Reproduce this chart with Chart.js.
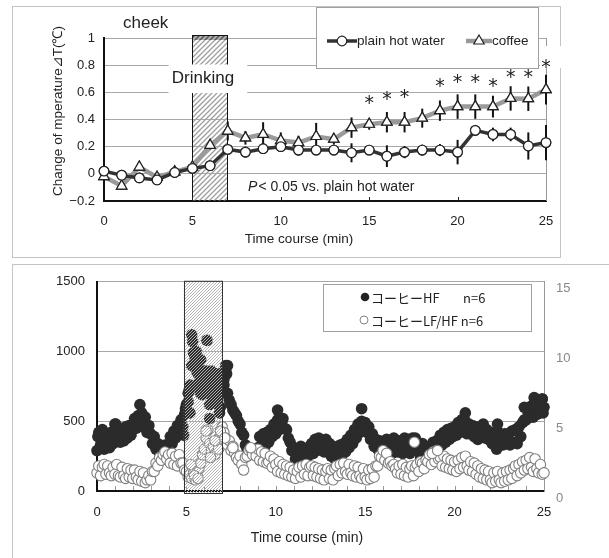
<!DOCTYPE html>
<html>
<head>
<meta charset="utf-8">
<script src="https://cdn.jsdelivr.net/npm/chart.js@4.4.1/dist/chart.umd.min.js"></script>
<style>
  body { margin: 0; background: #fff; }
  #wrap { position: relative; width: 609px; height: 558px; overflow: hidden; }
  canvas { position: absolute; left: 0; }
  #top { top: 0; }
  #bottom { top: 262px; }
  .frame1 { position: absolute; left: 12px; top: 6px; width: 547px; height: 250px; border: 1px solid #c4c4c4; }
  .frame2 { position: absolute; left: 12px; top: 264px; width: 597px; height: 294px; border-top: 1px solid #c4c4c4; border-left: 1px solid #c4c4c4; }
</style>
</head>
<body>
<div id="wrap">
  <div class="frame1"></div>
  <div class="frame2"></div>
  <canvas id="top" width="609" height="262"></canvas>
  <canvas id="bottom" width="609" height="296"></canvas>
</div>
<script>
// ---- top chart data (cheek temperature) ----
const minutes = [0,1,2,3,4,5,6,7,8,9,10,11,12,13,14,15,16,17,18,19,20,21,22,23,24,25];
const waterTemp = [0.02,-0.01,-0.03,-0.045,0.01,0.04,0.06,0.18,0.16,0.185,0.2,0.175,0.175,0.175,0.155,0.175,0.13,0.16,0.175,0.175,0.16,0.32,0.29,0.29,0.205,0.23];
const waterErr  = [0.02,0.02,0.02,0.02,0.02,0.03,0.02,0.03,0.04,0.03,0.03,0.04,0.03,0.03,0.07,0.03,0.08,0.045,0.04,0.045,0.09,0.04,0.05,0.05,0.1,0.13];
const coffeeTemp = [-0.02,-0.09,0.05,-0.025,0.015,0.05,0.21,0.315,0.265,0.29,0.245,0.23,0.275,0.255,0.34,0.365,0.38,0.38,0.41,0.465,0.495,0.495,0.495,0.555,0.553,0.62];
const coffeeErr  = [0.02,0.02,0.02,0.02,0.03,0.02,0.03,0.07,0.05,0.09,0.06,0.05,0.1,0.04,0.075,0.04,0.075,0.075,0.07,0.075,0.09,0.09,0.08,0.09,0.09,0.11];
const starMinutes = [15,16,17,19,20,21,22,23,24,25];
const starLevels  = [0.555,0.59,0.6,0.68,0.71,0.71,0.68,0.75,0.75,0.82];
const drinkStart = 5, drinkEnd = 7;

// ---- bottom chart data (HF and LF/HF, sampled every 0.1 min) ----
const sampleStep = 0.1;
const hfValues = [
  290,420,330,440,300,410,380,310,420,340,
  480,370,450,350,430,360,460,380,470,400,
  440,520,450,540,470,560,460,530,420,470,
  410,340,390,300,340,270,310,250,330,280,
  320,390,340,430,380,470,420,510,460,550,
  620,700,760,900,990,950,850,780,700,820,
  740,860,800,620,760,700,820,760,680,600,
  780,800,860,900,650,620,580,560,540,500,
  480,420,400,330,300,null,null,null,null,null,
  310,390,330,410,320,420,350,440,390,480,
  410,510,440,500,520,450,440,380,350,290,
  310,230,300,220,320,250,290,230,310,260,
  340,270,370,290,380,310,360,280,370,300,
  340,250,320,230,300,240,330,260,340,280,
  370,310,400,340,440,380,480,420,500,440,
  490,420,460,370,410,320,370,300,360,290,
  350,270,370,290,360,270,380,300,280,360,
  350,270,380,300,370,270,350,290,380,300,
  320,240,340,250,320,230,300,250,350,290,
  360,300,400,330,420,350,440,370,450,390,
  460,400,490,420,510,440,500,410,480,430,
  470,390,460,370,450,390,480,380,440,370,
  420,340,410,330,430,350,400,330,410,340,
  410,330,430,350,440,340,460,390,490,510,
  510,570,530,610,530,640,550,650,580,660,
  600
];
const lfhfValues = [
  1.3,1.8,1.1,1.7,1.9,1.2,1.8,1.3,1.1,1.7,
  1.2,1.9,1.1,1.0,1.7,1.1,0.9,1.6,1.0,1.5,
  0.9,1.5,1.0,0.8,1.4,0.7,1.3,0.6,0.8,1.1,
  0.8,1.4,1.4,2.0,1.8,2.4,2.2,2.6,2.8,2.3,
  2.6,2.0,2.7,1.9,2.5,1.8,2.6,2.0,2.0,1.5,
  1.4,1.0,1.2,0.9,1.3,0.8,1.1,1.6,2.0,2.6,
  3.0,3.8,4.4,3.4,2.9,3.2,2.6,3.5,3.0,4.0,
  4.6,4.2,3.8,3.3,3.6,2.9,3.2,2.7,2.4,2.2,
  2.5,1.9,1.5,2.4,2.5,2.9,3.0,2.6,3.0,2.5,
  3.0,2.2,2.8,2.1,2.7,2.0,2.1,2.5,1.7,2.3,
  1.9,1.4,2.1,1.3,1.9,1.2,1.8,1.1,1.7,1.0,
  1.5,0.9,1.4,1.7,1.0,1.8,1.2,1.9,1.1,1.7,
  1.8,1.1,1.7,1.0,1.6,0.9,1.5,0.8,1.4,1.6,
  0.9,1.5,0.8,1.6,1.8,1.1,1.9,1.3,2.0,1.4,
  1.2,1.9,1.3,1.1,1.8,1.0,1.7,1.1,0.9,1.6,
  1.0,0.8,1.5,0.9,1.6,1.0,1.8,1.8,2.5,2.4,
  2.9,2.2,2.7,2.0,2.1,1.8,1.9,1.6,1.3,1.8,
  1.2,1.9,1.1,1.7,1.0,1.6,1.8,1.1,1.7,1.9,
  1.4,2.1,2.0,1.6,2.2,2.1,2.6,1.9,2.8,2.1,
  2.9,2.3,2.4,1.8,2.5,1.7,2.3,1.6,2.2,1.5,
  2.1,1.4,2.2,1.6,2.4,1.7,2.5,1.8,1.5,2.1,
  1.4,2.0,1.2,1.8,1.0,1.6,0.9,1.5,0.8,1.4,
  0.8,0.6,1.3,0.7,1.4,0.8,0.6,1.3,0.7,1.4,
  0.8,1.5,0.9,1.6,1.8,1.1,1.9,1.3,2.1,1.5,
  2.2,1.6,2.4,1.7,1.4,2.3,1.6,1.3,1.9,1.2,
  1.3
];
const hfExtraTimes  = [0.05,0.35,0.65,1.05,2.4,4.85,4.95,5.1,5.15,5.2,5.3,5.35,5.45,5.5,5.55,5.6,5.7,5.75,5.8,5.9,5.95,6.05,6.15,6.2,6.25,6.3,6.4,6.45,6.55,6.6,6.7,6.75,6.85,6.9,6.95,7.05,7.1,7.2,7.25,7.3,10.1,10.35,14.8,14.95,17.65,18.65,20.6,22.35,22.4,23.9,24.45,24.6,24.75,24.9,24.95];
const hfExtraValues = [390,420,330,480,620,400,590,640,720,560,1120,1070,990,940,1000,880,840,720,940,690,860,820,1080,780,700,520,860,640,780,720,840,620,560,740,820,850,760,900,840,700,580,500,590,480,380,250,560,300,480,600,670,620,560,660,560];
const lfhfExtraTimes  = [5.25,5.45,5.65,6.1,6.35,6.6,6.9,7.15,7.6,8.6,17.75,18.75,19.05];
const lfhfExtraValues = [1.9,1.1,0.9,4.3,2.4,3.6,4.3,3.8,3.1,3.1,3.5,2.7,2.9];
const hatchStart = 4.85, hatchEnd = 7.0;

const tickFont = { family: "'Liberation Sans Narrow','Liberation Sans',sans-serif", size: 13 };
const textFont = "'Liberation Sans', sans-serif";
const jpFont = "'Noto Sans CJK JP', sans-serif";

function hatch(ctx, gap, color, width, bg) {
  const c = document.createElement('canvas');
  c.width = gap; c.height = gap;
  const g = c.getContext('2d');
  if (bg) { g.fillStyle = bg; g.fillRect(0, 0, gap, gap); }
  g.strokeStyle = color; g.lineWidth = width;
  g.beginPath();
  g.moveTo(0, gap); g.lineTo(gap, 0);
  g.moveTo(-2, 2); g.lineTo(2, -2);
  g.moveTo(gap - 2, gap + 2); g.lineTo(gap + 2, gap - 2);
  g.stroke();
  return ctx.createPattern(c, 'repeat');
}

function marker(ctx, style, r, x, y) {
  ctx.fillStyle = '#fff'; ctx.strokeStyle = '#222'; ctx.lineWidth = 1.2;
  Chart.helpers.drawPoint(ctx, { pointStyle: style, radius: r, rotation: 0, borderWidth: 1.2 }, x, y);
}

/*--top chart--*/
const topDecor = {
  id: 'topDecor',
  beforeDatasetsDraw(chart) {
    const { ctx, chartArea: a, scales: { x, y } } = chart;
    const l = x.getPixelForValue(drinkStart), r = x.getPixelForValue(drinkEnd);
    ctx.save();
    ctx.fillStyle = hatch(ctx, 5, '#9e9e9e', 1.3);
    ctx.fillRect(l, a.top - 3, r - l, a.bottom - a.top + 3);
    ctx.fillStyle = hatch(ctx, 5, '#555', 1.5, '#b0b0b0');
    ctx.fillRect(l, a.top - 3, r - l, 5);
    ctx.strokeStyle = '#111'; ctx.lineWidth = 1;
    ctx.strokeRect(Math.round(l) + 0.5, a.top - 2.5, Math.round(r - l), a.bottom - a.top + 2.5);

    // "Drinking" label box
    const bx1 = x.getPixelForValue(3.65), bx2 = x.getPixelForValue(8.1);
    const by1 = y.getPixelForValue(0.805), by2 = y.getPixelForValue(0.595);
    ctx.fillStyle = '#fff';
    ctx.fillRect(bx1, by1, bx2 - bx1, by2 - by1);
    ctx.fillStyle = '#222';
    ctx.font = '17px ' + textFont;
    ctx.textAlign = 'center'; ctx.textBaseline = 'middle';
    ctx.fillText('Drinking', x.getPixelForValue(5.6), y.getPixelForValue(0.7));

    // right border + small ticks
    ctx.strokeStyle = '#999'; ctx.lineWidth = 1;
    ctx.beginPath(); ctx.moveTo(a.right + 0.5, a.top); ctx.lineTo(a.right + 0.5, a.bottom); ctx.stroke();
    ctx.strokeStyle = '#222';
    [5, 10, 15, 20].forEach(t => {
      const px = Math.round(x.getPixelForValue(t)) + 0.5;
      ctx.beginPath(); ctx.moveTo(px, a.bottom); ctx.lineTo(px, a.bottom - 4); ctx.stroke();
    });
    ctx.restore();
  },
  afterDatasetsDraw(chart) {
    const { ctx, scales: { x, y } } = chart;
    ctx.save();
    ctx.strokeStyle = '#111'; ctx.lineWidth = 2;
    const errs = [waterErr, coffeeErr];
    const vals = [waterTemp, coffeeTemp];
    [1, 0].forEach(d => {
      minutes.forEach((m, i) => {
        const px = x.getPixelForValue(m);
        ctx.beginPath();
        ctx.moveTo(px, y.getPixelForValue(vals[d][i] - errs[d][i]));
        ctx.lineTo(px, y.getPixelForValue(vals[d][i] + errs[d][i]));
        ctx.stroke();
      });
    });
    ctx.restore();
    [1, 0].forEach(d => chart.getDatasetMeta(d).data.forEach(p => p.draw(ctx, chart.chartArea)));
  },
  afterDraw(chart) {
    const { ctx, scales: { x, y } } = chart;
    ctx.save();
    // white text box over the right edge
    ctx.fillStyle = '#fff';
    ctx.fillRect(540, 46, 60, 22);

    // legend
    ctx.fillRect(316, 7, 222, 61);
    ctx.strokeStyle = '#a0a0a0'; ctx.lineWidth = 1;
    ctx.strokeRect(316.5, 7.5, 222, 61);
    ctx.lineCap = 'butt';
    ctx.strokeStyle = '#333'; ctx.lineWidth = 3.5;
    ctx.beginPath(); ctx.moveTo(327, 41); ctx.lineTo(357, 41); ctx.stroke();
    marker(ctx, 'circle', 4.8, 342, 41);
    ctx.strokeStyle = '#999'; ctx.lineWidth = 4.5;
    ctx.beginPath(); ctx.moveTo(466, 41); ctx.lineTo(492, 41); ctx.stroke();
    marker(ctx, 'triangle', 6, 479, 41);
    ctx.fillStyle = '#222';
    ctx.font = '13.5px ' + textFont;
    ctx.textAlign = 'left'; ctx.textBaseline = 'middle';
    ctx.fillText('plain hot water', 357, 41);
    ctx.fillText('coffee', 492, 41);

    // significance marks
    ctx.font = '19px "DejaVu Sans", sans-serif';
    ctx.textAlign = 'center'; ctx.textBaseline = 'alphabetic';
    starMinutes.forEach((m, i) => ctx.fillText('*', x.getPixelForValue(m), y.getPixelForValue(starLevels[i]) + 11));

    // annotations
    ctx.font = '17px ' + textFont;
    ctx.textAlign = 'left'; ctx.textBaseline = 'middle';
    ctx.fillText('cheek', 123, 23);
    ctx.font = 'italic 14px ' + textFont;
    const px = x.getPixelForValue(8.15), py = y.getPixelForValue(-0.1);
    ctx.fillText('P', px, py);
    const pw = ctx.measureText('P').width;
    ctx.font = '14px ' + textFont;
    ctx.fillText('< 0.05 vs. plain hot water', px + pw + 1, py);

    // axis titles
    ctx.font = '13.5px ' + textFont;
    ctx.textAlign = 'center';
    ctx.fillText('Time course (min)', 299, 239);
    ctx.translate(58, 111);
    ctx.rotate(-Math.PI / 2);
    ctx.font = '13.5px ' + textFont;
    ctx.fillText('Change of mperature⊿T(℃)', 0, 0);
    ctx.restore();
  }
};

new Chart(document.getElementById('top').getContext('2d'), {
  type: 'line',
  data: {
    datasets: [
      {
        label: 'plain hot water',
        data: minutes.map((m, i) => ({ x: m, y: waterTemp[i] })),
        borderColor: '#333', borderWidth: 3.5,
        pointStyle: 'circle', pointRadius: 4.8,
        pointBackgroundColor: '#fff', pointBorderColor: '#222', pointBorderWidth: 1.2,
        tension: 0, clip: false
      },
      {
        label: 'coffee',
        data: minutes.map((m, i) => ({ x: m, y: coffeeTemp[i] })),
        borderColor: '#9a9a9a', borderWidth: 4.5,
        pointStyle: 'triangle', pointRadius: 6,
        pointBackgroundColor: '#fff', pointBorderColor: '#222', pointBorderWidth: 1.2,
        tension: 0, clip: false
      }
    ]
  },
  options: {
    responsive: false, animation: false, events: [],
    layout: { padding: { left: 0, right: 63, top: 38, bottom: 0 } },
    plugins: { legend: { display: false }, tooltip: { enabled: false } },
    scales: {
      x: {
        type: 'linear', min: 0, max: 25,
        grid: { display: false, drawTicks: false },
        border: { color: '#111', width: 2 },
        ticks: { stepSize: 5, padding: 13, color: '#222', font: tickFont, maxRotation: 0 },
        afterFit: s => { s.height = 61; }
      },
      y: {
        min: -0.2, max: 1,
        grid: { color: '#a8a8a8', lineWidth: 1, drawTicks: false },
        border: { color: '#111', width: 2 },
        ticks: {
          stepSize: 0.2, padding: 9, color: '#222', font: tickFont,
          callback: v => {
            const r = Math.round(v * 10) / 10;
            if (r < 0) return '−' + Math.abs(r).toFixed(1);
            return (r === 0 || r === 1) ? String(r) : r.toFixed(1);
          }
        },
        afterFit: s => { s.width = 104; }
      }
    }
  },
  plugins: [topDecor]
});

/*--bottom chart--*/
const hfPoints = hfValues.map((v, i) => ({ x: +(i * sampleStep).toFixed(1), y: v }))
  .concat(hfExtraTimes.map((t, i) => ({ x: t, y: hfExtraValues[i] })));
const lfhfPoints = lfhfValues.map((v, i) => ({ x: +(i * sampleStep).toFixed(1), y: v }))
  .concat(lfhfExtraTimes.map((t, i) => ({ x: t, y: lfhfExtraValues[i] })));

const bottomDecor = {
  id: 'bottomDecor',
  beforeDatasetsDraw(chart) {
    const { ctx, chartArea: a, scales: { x } } = chart;
    ctx.save();
    ctx.strokeStyle = '#999'; ctx.lineWidth = 1;
    for (let t = 1; t < 25; t++) {
      const px = Math.round(x.getPixelForValue(t)) + 0.5;
      ctx.beginPath(); ctx.moveTo(px, a.bottom - 1); ctx.lineTo(px, a.bottom - 5); ctx.stroke();
    }
    ctx.restore();
  },
  afterDatasetsDraw(chart) {
    const { ctx, chartArea: a, scales: { x } } = chart;
    const l = x.getPixelForValue(hatchStart), r = x.getPixelForValue(hatchEnd);
    ctx.save();
    ctx.fillStyle = hatch(ctx, 3, '#b4b4b4', 1);
    ctx.fillRect(l, a.top - 1, r - l, a.bottom - a.top + 4);
    ctx.strokeStyle = '#333'; ctx.lineWidth = 1;
    ctx.strokeRect(Math.round(l) + 0.5, a.top - 0.5, Math.round(r - l), a.bottom - a.top + 3);
    ctx.restore();
  },
  afterDraw(chart) {
    const { ctx } = chart;
    ctx.save();
    ctx.fillStyle = '#fff';
    ctx.fillRect(323.5, 22.5, 208, 47);
    ctx.strokeStyle = '#a0a0a0'; ctx.lineWidth = 1;
    ctx.strokeRect(323.5, 22.5, 208, 47);
    ctx.fillStyle = '#222';
    ctx.beginPath(); ctx.arc(365, 35, 4.3, 0, Math.PI * 2); ctx.fill();
    ctx.strokeStyle = '#888';
    ctx.beginPath(); ctx.arc(364, 58, 4, 0, Math.PI * 2); ctx.stroke();
    ctx.fillStyle = '#222';
    ctx.font = '13px ' + jpFont;
    ctx.textAlign = 'left'; ctx.textBaseline = 'middle';
    ctx.fillText('コーヒーHF', 371, 36);
    ctx.fillText('n=6', 463, 36);
    ctx.fillText('コーヒーLF/HF n=6', 371, 59);
    ctx.font = '14px ' + textFont;
    ctx.textAlign = 'center';
    ctx.fillText('Time course (min)', 307, 276);
    ctx.restore();
  }
};

new Chart(document.getElementById('bottom').getContext('2d'), {
  type: 'scatter',
  data: {
    datasets: [
      {
        label: 'コーヒーLF/HF n=6',
        data: lfhfPoints, yAxisID: 'y2', order: 1,
        pointRadius: 5.2, backgroundColor: '#fff', borderColor: '#808080', borderWidth: 1.1,
        clip: false
      },
      {
        label: 'コーヒーHF n=6',
        data: hfPoints, yAxisID: 'y', order: 2,
        pointRadius: 5.8, backgroundColor: '#2b2b2b', borderColor: '#2b2b2b', borderWidth: 0,
        clip: false
      }
    ]
  },
  options: {
    responsive: false, animation: false, events: [],
    layout: { padding: { left: 0, right: 0, top: 15, bottom: 0 } },
    plugins: { legend: { display: false }, tooltip: { enabled: false } },
    scales: {
      x: {
        type: 'linear', min: 0, max: 25,
        grid: { display: false, drawTicks: false },
        border: { color: '#111', width: 2 },
        ticks: { stepSize: 5, padding: 14, color: '#222', font: tickFont, maxRotation: 0 },
        afterFit: s => { s.height = 67; }
      },
      y: {
        position: 'left', min: 0, max: 1500,
        grid: { color: '#a8a8a8', lineWidth: 1, drawTicks: false },
        border: { color: '#111', width: 2 },
        ticks: { stepSize: 500, padding: 12, color: '#222', font: tickFont, callback: v => String(v) },
        afterFit: s => { s.width = 97; }
      },
      y2: {
        position: 'right', min: 0, max: 15,
        grid: { drawOnChartArea: false, drawTicks: false },
        border: { color: '#999', width: 1 },
        ticks: { stepSize: 5, padding: 12, color: '#888', font: tickFont, labelOffset: 7, callback: v => String(v) },
        afterFit: s => { s.width = 65; }
      }
    }
  },
  plugins: [bottomDecor]
});
</script>
</body>
</html>
